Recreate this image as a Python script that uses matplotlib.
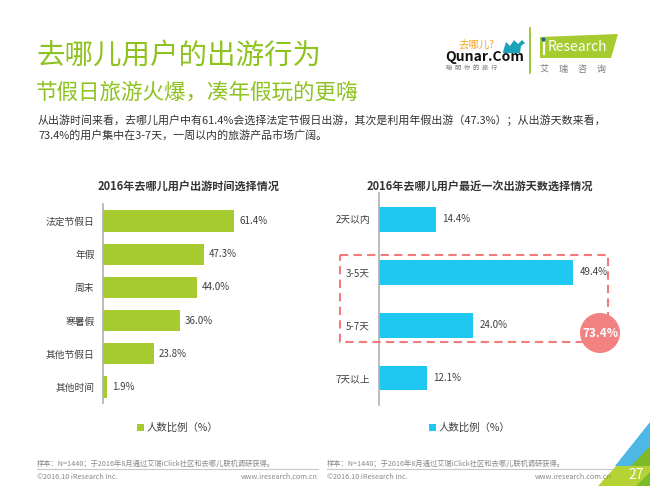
import matplotlib.pyplot as plt
from matplotlib.patches import Rectangle, Circle, Polygon

plt.rcParams['font.family'] = ['Noto Sans CJK SC', 'DejaVu Sans']

# data
time_cats = ['法定节假日', '年假', '周末', '寒暑假', '其他节假日', '其他时间']
time_vals = [61.4, 47.3, 44.0, 36.0, 23.8, 1.9]
days_cats = ['2天以内', '3-5天', '5-7天', '7天以上']
days_vals = [14.4, 49.4, 24.0, 12.1]
legend_label = '人数比例（%）'

W, H = 650, 486
GREEN = '#a6cb2f'
CYAN = '#1ec8f0'
RED = '#f27c7c'
TXT = '#404040'

fig = plt.figure(figsize=(6.5, 4.86), dpi=100)


def box(left, top, width, height):
    # pixel box (from top-left) -> figure fraction
    return [left / W, 1 - (top + height) / H, width / W, height / H]


def barchart(rect, cats, vals, color, xmax, bh, gap, pad, title, title_x, leg_x):
    ax = fig.add_axes(box(*rect))
    ax.barh(range(len(cats)), vals, height=bh, color=color, label=legend_label)
    ax.set_xlim(0, xmax)
    ax.set_ylim(len(cats) - 0.5, -0.5)
    ax.set_yticks(range(len(cats)), cats)
    ax.set_xticks([])
    ax.tick_params(axis='y', length=0, pad=pad, labelsize=7, labelcolor=TXT)
    for s in ['top', 'right', 'bottom']:
        ax.spines[s].set_visible(False)
    ax.spines['left'].set_color('#b0b0b0')
    ax.spines['left'].set_linewidth(1.2)
    for i, v in enumerate(vals):
        ax.text(v + gap, i, f'{v:.1f}%', va='center', ha='left', fontsize=7, color=TXT)
    fig.text(title_x / W, 1 - 186 / H, title, ha='center', va='center',
             fontsize=8, fontweight='bold', color='#333333')
    ax.legend(loc='center', bbox_to_anchor=(leg_x / W, 1 - 428 / H),
              bbox_transform=fig.transFigure, frameon=False, fontsize=7.5,
              handlelength=0.6, handleheight=0.6, handletextpad=0.3,
              labelcolor=TXT)
    return ax


barchart((103, 204.5, 213, 199), time_cats, time_vals, GREEN, 100, 0.64, 2.5, 6,
         '2016年去哪儿用户出游时间选择情况', 189, 178)
barchart((379, 193, 236, 211.5), days_cats, days_vals, CYAN, 60, 0.47, 1.6, 6.5,
         '2016年去哪儿用户最近一次出游天数选择情况', 480, 470)

# decoration layer in pixel coordinates
deco = fig.add_axes([0, 0, 1, 1], zorder=5)
deco.set_xlim(0, W)
deco.set_ylim(H, 0)
deco.axis('off')
deco.patch.set_alpha(0)

# headings
deco.text(36, 56, '去哪儿用户的出游行为', fontsize=20.5, color='#8dc21f', va='center')
deco.text(36, 93, '节假日旅游火爆，凑年假玩的更嗨', fontsize=15.5, color='#8dc21f', va='center')
deco.text(38, 120, '从出游时间来看，去哪儿用户中有61.4%会选择法定节假日出游，其次是利用年假出游（47.3%）；从出游天数来看，',
          fontsize=7.9, color='#333333', va='center')
deco.text(38, 135, '73.4%的用户集中在3-7天，一周以内的旅游产品市场广阔。',
          fontsize=7.9, color='#333333', va='center')

# highlight of 3-7 days
deco.add_patch(Rectangle((340, 255), 268, 87, fill=False, ec=RED, lw=1.5,
                         ls=(0, (4, 2.5))))
deco.add_patch(Circle((600, 333), 20, fc='#f28282', ec='none'))
deco.text(600, 333, f'{days_vals[1] + days_vals[2]:.1f}%', ha='center', va='center',
          fontsize=8.5, fontweight='bold', color='white')

# logos
deco.text(458, 45, '去哪儿?', fontsize=7.5, color='#f5a623', va='center')
deco.add_patch(Polygon([(503, 52), (506, 42), (510, 46), (514, 40), (518, 44),
                        (522, 40), (525, 43), (521, 46), (520, 53), (503, 53)],
                       fc='#1aa3b8', ec='none'))
deco.text(445, 57, 'Qunar.Com', fontsize=10, fontweight='bold', color='#111111', va='center')
deco.text(446, 68, '聪  明  你  的  旅  行', fontsize=4.5, color='#777777', va='center')
deco.plot([530, 530], [28, 73], color='#8dc21f', lw=1.2)
deco.add_patch(Polygon([(540, 37), (618, 34), (611, 58), (540, 58)], fc='#a6cb2f', ec='none'))
deco.add_patch(Circle((543.5, 39.5), 2, fc='#1f5fa8', ec='none'))
deco.plot([543.5, 543.5], [43, 54], color='white', lw=1.6)
deco.text(548, 47, 'Research', fontsize=10, color='white', va='center')
deco.text(540, 69, '艾     瑞     咨     询', fontsize=6.5, color='#777777', va='center')

# footer
for x0, x1 in [(37, 318), (327, 612)]:
    deco.text(x0, 463, '样本：N=1440；于2016年8月通过艾瑞iClick社区和去哪儿联机调研获得。',
              fontsize=5.2, color='#888888', va='center')
    deco.plot([x0, x1], [469, 469], color='#c8c8c8', lw=0.8)
    deco.text(x0, 477, '©2016.10 iResearch Inc.', fontsize=5.2, color='#888888', va='center')
    deco.text(x1, 477, 'www.iresearch.com.cn', fontsize=5.2, color='#888888',
              va='center', ha='right')

# corner
deco.add_patch(Polygon([(650, 422), (615, 466), (650, 466)], fc='#4db8e6', ec='none'))
deco.add_patch(Polygon([(650, 446), (612, 486), (650, 486)], fc='#7dba28', ec='none'))
deco.add_patch(Polygon([(616, 466), (598, 486), (636, 486), (650, 472), (650, 466)],
                       fc='#b5d334', ec='none'))
deco.text(636, 475, '27', fontsize=10, color='white', ha='center', va='center')

fig.savefig('out.png', dpi=100, facecolor='white')
